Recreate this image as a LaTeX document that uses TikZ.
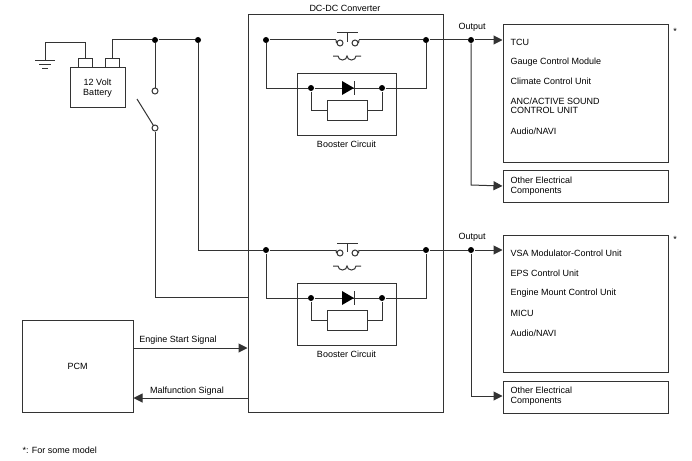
\documentclass[tikz,border=0pt]{standalone}
\usepackage{fontspec}
\setmainfont{Liberation Sans}
\usetikzlibrary{arrows.meta, positioning, calc}
\definecolor{wire}{HTML}{333333}

\begin{document}
\begin{tikzpicture}[x=1pt, y=-1pt,
    line width=1pt, draw=wire,
    box/.style={draw=wire, line width=1pt, inner sep=0pt},
    txt/.style={font=\fontsize{9}{9.5}\selectfont, inner sep=0pt, anchor=west, align=left},
    ctxt/.style={font=\fontsize{9}{9.5}\selectfont, inner sep=0pt, align=center},
    dot/.style={circle, fill=black, inner sep=0pt, minimum size=6pt},
    ring/.style={circle, draw=wire, fill=white, inner sep=0pt, minimum size=6pt},
    sig/.style={-{Triangle[length=9pt, width=9pt]}}
]
\useasboundingbox (0,0) rectangle (692,460);

% Battery and ground
\draw (70,67) rectangle (125,107);
\draw (78,67) -- (78,58) -- (92,58) -- (92,67);
\draw (105,67) -- (105,58) -- (119,58) -- (119,67);
\node[ctxt] (batt) at (97.5,88) {12 Volt\\Battery};
\draw (85,58) -- (85,43) -- (45,43) -- (45,60);
\draw (35,60) -- (55,60) (39,64) -- (51,64) (42,68) -- (48,68);

% DC-DC converter
\node[box, minimum width=195pt, minimum height=397pt] (conv) at (345.5,213.5) {};
\node[ctxt] (convlbl) at (345,8) {DC-DC Converter};

% Main supply line
\coordinate (bplus) at (112,58);
\node[dot] (j1) at (155,40) {};
\node[dot] (j2) at (198,40) {};
\draw (bplus) -- (112,40) -- (j1) -- (j2);

% Ignition switch
\node[ring] (sw1) at (155,91) {};
\node[ring] (sw2) at (155,128) {};
\draw (j1) -- (sw1);
\draw (137,99) -- (sw2);
\coordinate (swin) at (conv.west |- 0,297);
\draw (sw2) -- (155,297) -- (swin);

% Two converter channels
\foreach \y/\n in {40/a, 250/b} {
  \node[dot] (l\n) at (266,\y) {};
  \node[dot] (r\n) at (426,\y) {};
  \node[dot] (o\n) at (471,\y) {};
  \node[ring] (c1\n) at (340,\y+3) {};
  \node[ring] (c2\n) at (355,\y+3) {};
  \draw (l\n) -- (336,\y) (359,\y) -- (r\n) -- (o\n);
  \draw (336,\y) -- (c1\n.west) (c2\n.east) -- (359,\y);
  \draw (337,\y-7) -- (358,\y-7) (347.5,\y-7) -- (347.5,\y+2);
  \draw (333,\y+16) -- (338,\y+16) arc (180:0:4.5 and 4) arc (180:0:4.5 and 4) -- (361,\y+16);
  % booster circuit
  \draw (297,\y+33) rectangle (396,\y+95);
  \node[ctxt] (bl\n) at (346.5,\y+104) {Booster Circuit};
  \node[dot] (d1\n) at (311,\y+48) {};
  \node[dot] (d2\n) at (382,\y+48) {};
  \draw (l\n) -- (266,\y+48) -- (d1\n) -- (d2\n) -- (426,\y+48) -- (r\n);
  \fill (342,\y+41) -- (354,\y+48) -- (342,\y+55) -- cycle;
  \draw (354,\y+41) -- (354,\y+55);
  \draw (327,\y+60) rectangle (367,\y+80);
  \draw (d1\n) -- (311,\y+70) -- (327,\y+70) (367,\y+70) -- (382,\y+70) -- (d2\n);
  \node[ctxt] (out\n) at (472,\y-13) {Output};
}
\draw (j2) -- (198,250) -- (lb);

% Load boxes
\node[box, minimum width=165pt, minimum height=137pt] (loadsa) at (585.5,93.5) {};
\node[box, minimum width=165pt, minimum height=32pt] (othera) at (585.5,186) {};
\node[box, minimum width=165pt, minimum height=137pt] (loadsb) at (585.5,303.5) {};
\node[box, minimum width=165pt, minimum height=32pt] (otherb) at (585.5,397) {};
\node[ctxt] at (675,31) {*};
\node[ctxt] at (675,239) {*};

\node[txt] at (510,42) {TCU};
\node[txt] at (510,62) {Gauge Control Module};
\node[txt] at (510,81) {Climate Control Unit};
\node[txt] at (510,106) {ANC/ACTIVE SOUND\\CONTROL UNIT};
\node[txt] at (510,131) {Audio/NAVI};
\node[txt] at (510,186) {Other Electrical\\Components};

\node[txt] at (510,253) {VSA Modulator-Control Unit};
\node[txt] at (510,273) {EPS Control Unit};
\node[txt] at (510,293) {Engine Mount Control Unit};
\node[txt] at (510,313) {MICU};
\node[txt] at (510,333) {Audio/NAVI};
\node[txt] at (510,396) {Other Electrical\\Components};

\draw[sig] (oa) -- (loadsa.west |- oa);
\draw[sig] (oa) -- (471,185) -- (othera.west);
\draw[sig] (ob) -- (loadsb.west |- ob);
\draw[sig] (ob) -- (471,396) -- (otherb.west |- 0,396);

% PCM
\node[box, minimum width=111pt, minimum height=92pt] (pcm) at (77.5,366) {};
\node[ctxt] (pcmlbl) at (pcm) {PCM};
\draw[sig] (pcm.east |- 0,348) -- (conv.west |- 0,348);
\node[ctxt] at (178,340) {Engine Start Signal};
\draw[sig] (conv.west |- 0,398) -- (pcm.east |- 0,398);
\node[ctxt] at (187,391) {Malfunction Signal};

\node[txt] at (22,450) {*: For some model};
\end{tikzpicture}
\end{document}
